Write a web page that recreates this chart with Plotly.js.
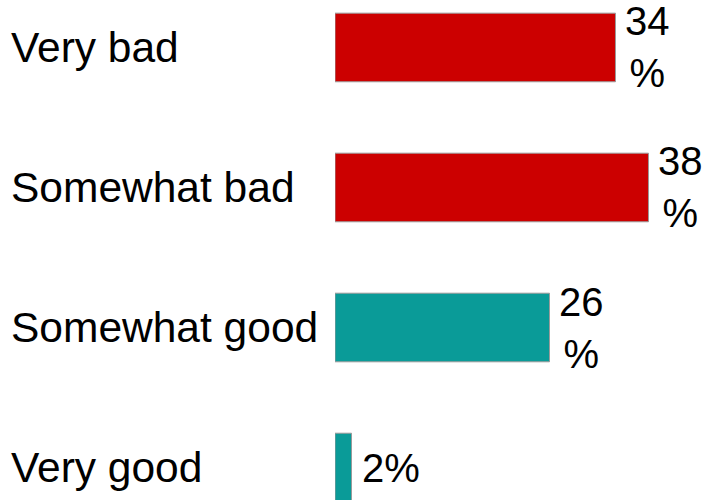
<!DOCTYPE html>
<html>
<head>
<meta charset="utf-8">
<script src="https://cdn.plot.ly/plotly-3.0.1.min.js"></script>
<style>html,body{margin:0;padding:0;background:#fff;}#chart{width:712px;height:500px;}</style>
</head>
<body>
<div id="chart"></div>
<script>
const categories = ["Very bad", "Somewhat bad", "Somewhat good", "Very good"];
const values = [34, 38, 26, 2];
const valueLabels = ["34<br>%", "38<br>%", "26<br>%", "2%"];
const barColors = ["#CC0000", "#CC0000", "#0A9B98", "#0A9B98"];

const FONT = "Liberation Sans, Arial, sans-serif";

const trace = {
  type: "bar",
  orientation: "h",
  y: categories,
  x: values,
  marker: { color: barColors, line: { color: "#9a9a9a", width: 1 } },
  hoverinfo: "none",
  cliponaxis: false
};

const annotations = [];
categories.forEach((c, i) => {
  annotations.push({
    xref: "paper", yref: "y", x: 0, y: c,
    xshift: -326, xanchor: "left", yanchor: "middle",
    text: c, showarrow: false,
    font: { family: FONT, size: 42.5, color: "#000" }
  });
  annotations.push({
    xref: "x", yref: "y", x: values[i], y: c,
    xshift: 8, xanchor: "left", yanchor: "middle", align: "center",
    text: valueLabels[i], showarrow: false,
    font: { family: FONT, size: 40, color: "#000" }
  });
});

const layout = {
  width: 712, height: 500,
  margin: { l: 335, r: 0, t: 0, b: 0, pad: 0 },
  paper_bgcolor: "#fff", plot_bgcolor: "#fff",
  showlegend: false,
  bargap: 0.51,
  xaxis: { range: [0, 45.7], visible: false, fixedrange: true },
  yaxis: { type: "category", categoryorder: "array", categoryarray: categories,
           range: [3.232, -0.339], autorange: false, showticklabels: false,
           showgrid: false, zeroline: false, showline: false, ticks: "" },
  annotations: annotations
};

Plotly.newPlot("chart", [trace], layout, { staticPlot: true, displayModeBar: false });
</script>
</body>
</html>
